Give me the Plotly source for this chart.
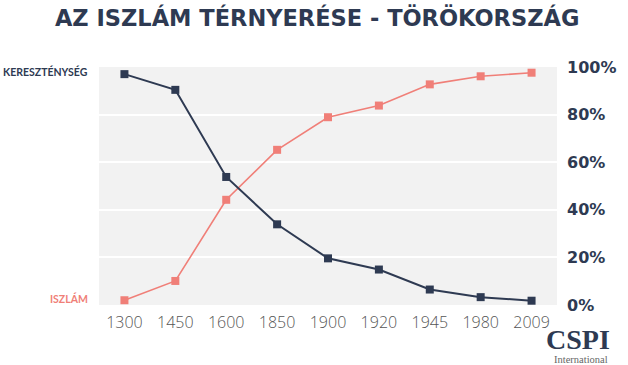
import plotly.graph_objects as go

years = ["1300", "1450", "1600", "1850", "1900", "1920", "1945", "1980", "2009"]
keresztenyseg = [97, 90.4, 53.8, 33.9, 19.6, 14.9, 6.5, 3.3, 1.8]
iszlam = [2.0, 10.1, 44.2, 65.2, 78.9, 83.8, 92.7, 96.1, 97.6]
y_ticks = [0, 20, 40, 60, 80, 100]
y_tick_labels = ["0%", "20%", "40%", "60%", "80%", "100%"]

NAVY = "#2e3a52"
SALMON = "#f07f78"

fig = go.Figure()
fig.add_trace(go.Scatter(
    x=years, y=iszlam, mode="lines+markers", name="ISZLÁM",
    line=dict(color=SALMON, width=1.6),
    marker=dict(symbol="square", size=8, color=SALMON),
))
fig.add_trace(go.Scatter(
    x=years, y=keresztenyseg, mode="lines+markers", name="KERESZTÉNYSÉG",
    line=dict(color=NAVY, width=2),
    marker=dict(symbol="square", size=8, color=NAVY),
))

fig.update_layout(
    width=628, height=365,
    margin=dict(l=99, r=63, t=67, b=60),
    paper_bgcolor="white",
    plot_bgcolor="#f2f2f2",
    showlegend=False,
    title=dict(
        text="AZ ISZLÁM TÉRNYERÉSE - TÖRÖKORSZÁG",
        x=0.505, xanchor="center", xref="container",
        y=0.95, yanchor="middle", yref="container",
        font=dict(family="DejaVu Sans", size=22.5, color=NAVY, weight="bold"),
    ),
    xaxis=dict(
        type="category", range=[-0.5, 8.5],
        showgrid=False, zeroline=False, showline=False,
        ticks="", ticklabelstandoff=6,
        tickfont=dict(family="Open Sans", size=16, color="#555555", weight=300),
    ),
    yaxis=dict(
        side="right", range=[0, 100],
        tickvals=y_ticks, ticktext=y_tick_labels,
        showgrid=True, gridcolor="white", gridwidth=2,
        zeroline=False, showline=False, ticks="",
        ticklabelstandoff=9,
        tickfont=dict(family="DejaVu Sans", size=16, color=NAVY, weight="bold"),
    ),
    font=dict(family="Lato"),
)

fig.add_annotation(
    text="KERESZTÉNYSÉG", xref="paper", yref="y",
    x=-0.019, y=keresztenyseg[0], xanchor="right", yanchor="middle", yshift=3,
    showarrow=False,
    font=dict(family="Lato", size=10.5, color=NAVY, weight="bold"),
)
fig.add_annotation(
    text="ISZLÁM", xref="paper", yref="y",
    x=-0.019, y=iszlam[0], xanchor="right", yanchor="middle", yshift=2,
    showarrow=False,
    font=dict(family="Lato", size=10.5, color=SALMON, weight="bold"),
)
fig.add_annotation(
    text="CSPI", xref="paper", yref="paper",
    x=1.045, y=-0.143, xanchor="center", yanchor="middle",
    showarrow=False,
    font=dict(family="Liberation Serif", size=28, color=NAVY, weight="bold"),
)
fig.add_annotation(
    text="International", xref="paper", yref="paper",
    x=1.053, y=-0.227, xanchor="center", yanchor="middle",
    showarrow=False,
    font=dict(family="Liberation Serif", size=10.5, color="#666666"),
)

fig.write_html(
    "out.html",
    config={"displayModeBar": False},
    post_script="document.body.style.margin='0px';document.body.style.overflow='hidden';",
)
